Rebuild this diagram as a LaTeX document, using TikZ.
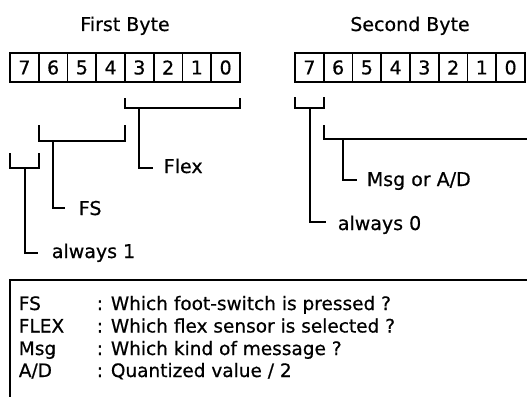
\documentclass[tikz,border=0pt]{standalone}
\usepackage{fontspec}
\setmainfont{DejaVu Sans}[FakeBold=0.6]
\begin{document}
\begin{tikzpicture}[x=1pt,y=-1pt,line width=1.7pt,
  cell/.style={draw,minimum width=28.75pt,minimum height=29pt,inner sep=0pt,outer sep=0pt,anchor=north west,font=\fontsize{19}{19}\selectfont},
  lab/.style={anchor=base west,inner sep=0pt,font=\fontsize{19}{19}\selectfont},
  ttl/.style={anchor=base,inner sep=0pt,font=\fontsize{19}{19}\selectfont},
  leg/.style={anchor=base west,inner sep=0pt,font=\fontsize{18.5}{18.5}\selectfont},
  conn/.style={line width=1.7pt}]
\useasboundingbox (0,0) rectangle (527,396);
\clip (0,0) rectangle (527,396);
% titles
\node[ttl] (t1) at (125,31) {First Byte};
\node[ttl] (t2) at (410,31) {Second Byte};
% cells
\foreach \i/\d in {0/7,1/6,2/5,3/4,4/3,5/2,6/1,7/0}{
  \node[cell] (f\d) at ({10+28.75*\i},53) {\d};
  \node[cell] (s\d) at ({295+28.75*\i},53) {\d};
}
% labels
\node[lab] (flex) at (163,173) {Flex};
\node[lab] (fs) at (78,215) {FS};
\node[lab] (al1) at (51,258) {always 1};
\node[lab] (msg) at (366,186) {Msg or A/D};
\node[lab] (al0) at (337,230) {always 0};
% hook coordinates
\coordinate (flexTop) at (139,108);
\coordinate (flexHook) at (153,168);
\coordinate (fsTop) at (53,141);
\coordinate (fsHook) at (65,208);
\coordinate (al1Top) at (25,168);
\coordinate (al1Hook) at (38,253);
\coordinate (msgTop) at (343,139);
\coordinate (msgHook) at (357,180);
\coordinate (al0Top) at (310,108);
\coordinate (al0Hook) at (326,222);
\coordinate (msgEnd) at (540,139);
% brackets
\draw[conn] (f3.west |- 0,98) -- (f3.west |- 0,108) -- (f0.east |- 0,108) -- (f0.east |- 0,98);
\draw[conn] (f6.west |- 0,125) -- (f6.west |- 0,141) -- (f4.east |- 0,141) -- (f4.east |- 0,125);
\draw[conn] (f7.west |- 0,153) -- (f7.west |- 0,168) -- (f7.east |- 0,168) -- (f7.east |- 0,153);
\draw[conn] (s7.west |- 0,97) -- (s7.west |- 0,108) -- (s7.east |- 0,108) -- (s7.east |- 0,97);
\draw[conn] (s6.west |- 0,125) -- (s6.west |- 0,139) -- (msgEnd);
% stems
\draw[conn] (flexTop) |- (flexHook);
\draw[conn] (fsTop) |- (fsHook);
\draw[conn] (al1Top) |- (al1Hook);
\draw[conn] (msgTop) |- (msgHook);
\draw[conn] (al0Top) |- (al0Hook);
% legend
\draw[conn] (10,410) -- (10,280) -- (540,280);
\node[leg] (l1) at (18,310) {FS};
\node[leg] (l2) at (18,332.5) {FLEX};
\node[leg] (l3) at (18,355) {Msg};
\node[leg] (l4) at (18,377) {A/D};
\node[leg] (d1) at (96,310) {: Which foot-switch is pressed ?};
\node[leg] (d2) at (96,332.5) {: Which flex sensor is selected ?};
\node[leg] (d3) at (96,355) {: Which kind of message ?};
\node[leg] (d4) at (96,377) {: Quantized value / 2};
\end{tikzpicture}
\end{document}
